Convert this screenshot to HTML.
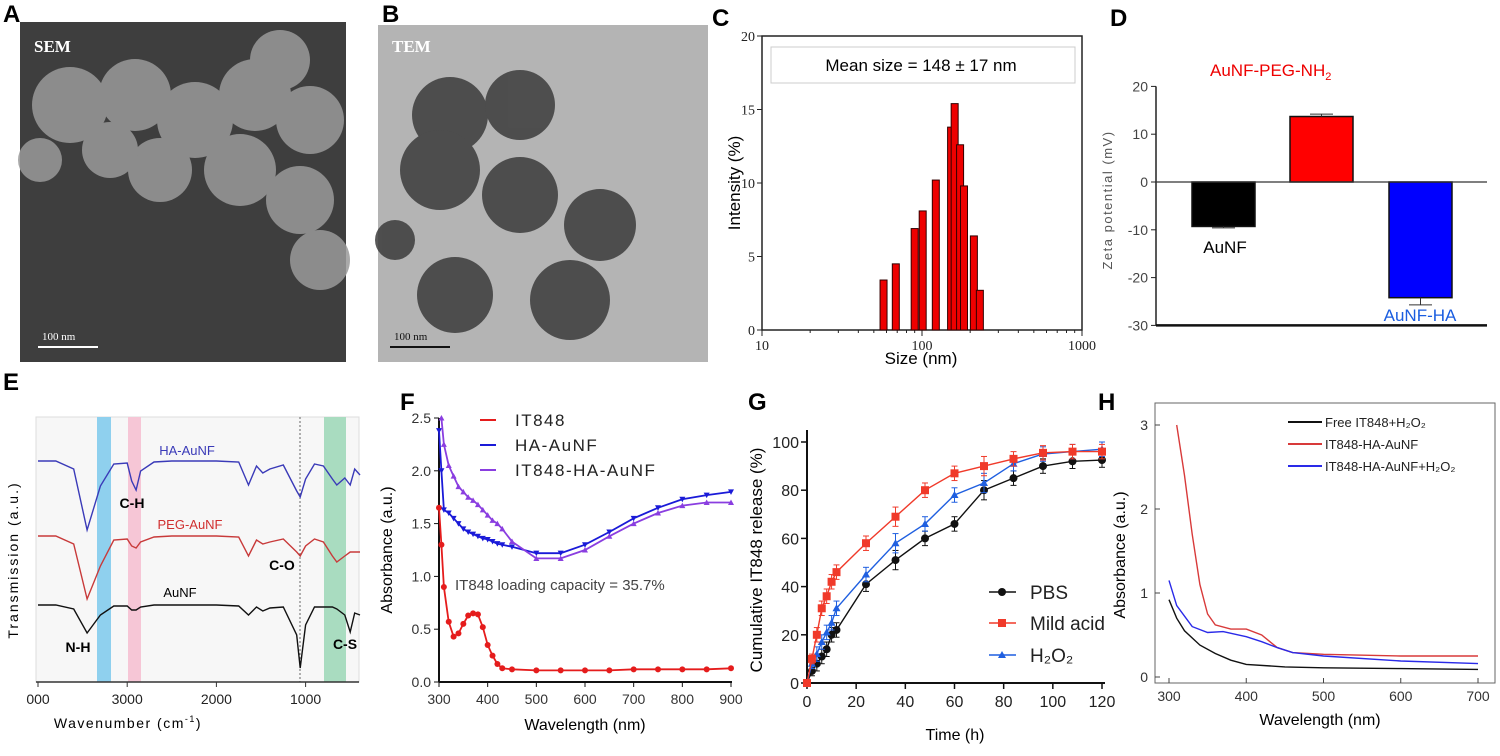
<!DOCTYPE html>
<html><head><meta charset="utf-8"><style>
body{margin:0;background:#fff;}
svg{display:block;font-family:"Liberation Sans",sans-serif;}
.pl{font-weight:bold;font-size:24px;}
</style></head><body>
<svg id="fig" width="1500" height="756" viewBox="0 0 1500 756">
<g>
<rect x="20" y="22" width="326" height="340" fill="#3e3e3e"/>
<g fill="#9a9a9a" opacity="0.85">
<circle cx="70" cy="105" r="38"/><circle cx="135" cy="95" r="36"/><circle cx="195" cy="120" r="38"/>
<circle cx="255" cy="95" r="36"/><circle cx="310" cy="120" r="34"/><circle cx="160" cy="170" r="32"/>
<circle cx="240" cy="170" r="36"/><circle cx="300" cy="200" r="34"/><circle cx="320" cy="260" r="30"/>
<circle cx="110" cy="150" r="28"/><circle cx="40" cy="160" r="22"/><circle cx="280" cy="60" r="30"/>
</g>
<text x="34" y="52" font-family="Liberation Serif" font-weight="bold" font-size="17" fill="#fff">SEM</text>
<line x1="38" y1="347" x2="98" y2="347" stroke="#fff" stroke-width="2"/>
<text x="42" y="340" font-family="Liberation Serif" font-size="11" fill="#fff">100 nm</text>
</g>
<g>
<rect x="378" y="25" width="330" height="337" fill="#b4b4b4"/>
<g fill="#3c3c3c" opacity="0.85">
<circle cx="450" cy="115" r="38"/><circle cx="520" cy="105" r="35"/><circle cx="440" cy="170" r="40"/>
<circle cx="520" cy="195" r="38"/><circle cx="600" cy="225" r="36"/><circle cx="455" cy="295" r="38"/>
<circle cx="570" cy="300" r="40"/><circle cx="395" cy="240" r="20"/>
</g>
<text x="392" y="52" font-family="Liberation Serif" font-weight="bold" font-size="17" fill="#fff">TEM</text>
<line x1="390" y1="347" x2="450" y2="347" stroke="#111" stroke-width="2"/>
<text x="394" y="340" font-family="Liberation Serif" font-size="11" fill="#111">100 nm</text>
</g>
<text class="pl" x="3" y="22">A</text>
<text class="pl" x="382" y="22">B</text>
<text class="pl" x="712" y="26">C</text>
<text class="pl" x="1110" y="26">D</text>
<text class="pl" x="3" y="390">E</text>
<text class="pl" x="400" y="410">F</text>
<text class="pl" x="748" y="410">G</text>
<text class="pl" x="1098" y="410">H</text>

<g>
<rect x="762" y="36" width="320" height="294" fill="none" stroke="#222" stroke-width="1.5"/>
<rect x="771" y="47" width="304" height="36" fill="#fff" stroke="#ccc"/>
<text x="921" y="71" text-anchor="middle" font-size="17">Mean size = 148 ± 17 nm</text>
<text transform="translate(740,183) rotate(-90)" text-anchor="middle" font-size="17">Intensity (%)</text>
<text x="921" y="364" text-anchor="middle" font-size="17">Size (nm)</text>
<g id="cg"></g>
</g>
<g>
<text x="1210" y="76" font-size="17" fill="#e00">AuNF-PEG-NH<tspan font-size="11" dy="4">2</tspan></text>
<text transform="translate(1112,200) rotate(-90)" text-anchor="middle" font-size="13" fill="#555" letter-spacing="1.5">Zeta potential (mV)</text>
<text x="1225" y="253" text-anchor="middle" font-size="17">AuNF</text>
<text x="1420" y="321" text-anchor="middle" font-size="17" fill="#1a5de0">AuNF-HA</text>
<g id="dg"></g>
</g>
<g>
<rect x="36" y="417" width="323" height="265" fill="#f7f7f7" stroke="#ddd"/>
<rect x="97" y="417" width="14" height="265" fill="#8fd0ee"/>
<rect x="128" y="417" width="13" height="265" fill="#f6c6d6"/>
<rect x="324" y="417" width="22" height="265" fill="#a9dcc0"/>
<line x1="300" y1="417" x2="300" y2="682" stroke="#666" stroke-dasharray="2,2"/>
<line x1="36" y1="682" x2="359" y2="682" stroke="#333" stroke-width="1.5"/>
<text x="187" y="455" text-anchor="middle" font-size="13" fill="#3a3ab8">HA-AuNF</text>
<text x="132" y="508" text-anchor="middle" font-size="14" font-weight="bold">C-H</text>
<text x="190" y="529" text-anchor="middle" font-size="13" fill="#d03030">PEG-AuNF</text>
<text x="282" y="570" text-anchor="middle" font-size="14" font-weight="bold">C-O</text>
<text x="180" y="597" text-anchor="middle" font-size="13">AuNF</text>
<text x="78" y="652" text-anchor="middle" font-size="14" font-weight="bold">N-H</text>
<text x="345" y="649" text-anchor="middle" font-size="14" font-weight="bold">C-S</text>
<text transform="translate(18,560) rotate(-90)" text-anchor="middle" font-size="14" letter-spacing="2">Transmission (a.u.)</text>
<text x="128" y="728" text-anchor="middle" font-size="14" letter-spacing="1.5">Wavenumber (cm<tspan font-size="9" dy="-6">-1</tspan><tspan dy="6">)</tspan></text>
<g id="eg"></g>
</g>
<g>
<text transform="translate(392,550) rotate(-90)" text-anchor="middle" font-size="16">Absorbance (a.u.)</text>
<text x="585" y="730" text-anchor="middle" font-size="16">Wavelength (nm)</text>
<text x="455" y="590" font-size="15" fill="#444">IT848 loading capacity = 35.7%</text>
<g id="fg"></g>
</g>
<g>
<text transform="translate(762,560) rotate(-90)" text-anchor="middle" font-size="17">Cumulative IT848 release (%)</text>
<text x="955" y="740" text-anchor="middle" font-size="16">Time (h)</text>
<g id="gg"></g>
</g>
<g>
<rect x="1155" y="403" width="340" height="280" fill="none" stroke="#666"/>
<text transform="translate(1125,555) rotate(-90)" text-anchor="middle" font-size="16">Absorbance (a.u.)</text>
<text x="1320" y="725" text-anchor="middle" font-size="16">Wavelength (nm)</text>
<g id="hg"></g>
</g>
</svg>
<script>
var cSizes=[57.5,68.6,90,101,122,152,160,173,183,211,230];
var cIntensity=[3.4,4.5,6.9,8.1,10.2,13.8,15.4,12.6,9.8,6.4,2.7];
var cYTicks=[0,5,10,15,20];
var cXTicks=[10,100,1000];
var dGroups=["AuNF","AuNF-PEG-NH2","AuNF-HA"];
var dValues=[-9.3,13.7,-24.2];
var dErrors=[0.3,0.5,1.5];
var dTicks=[20,10,0,-10,-20,-30];
var eWn=[4000,3800,3600,3450,3300,3150,3000,2950,2900,2850,2700,2500,2000,1750,1640,1550,1480,1400,1250,1100,1060,1000,900,800,700,650,560,500,450,390];
var eHA=[0,0,8,69,25,3,2,20,29,10,1,0,0,1,24,5,12,8,4,30,36,18,3,5,18,24,17,24,8,14];
var ePEG=[0,0,8,63,30,4,3,10,12,6,1,0,0,1,20,4,8,6,3,16,20,10,3,6,20,26,20,16,16,16];
var eAu=[0,0,4,28,10,1,1,5,5,2,0,0,0,1,10,2,6,3,2,30,63,20,2,2,2,4,10,27,8,10];
var eXTicks=[4000,3000,2000,1000];
var eXTickLabels=["000","3000","2000","1000"];
var fWl=[300,305,310,320,330,340,350,360,370,380,390,400,410,420,430,450,500,550,600,650,700,750,800,850,900];
var fIT848=[1.65,1.3,0.9,0.57,0.43,0.46,0.55,0.63,0.65,0.64,0.52,0.35,0.25,0.17,0.13,0.12,0.11,0.11,0.11,0.11,0.12,0.12,0.12,0.12,0.13];
var fHA=[2.38,2.0,1.63,1.6,1.55,1.5,1.45,1.42,1.4,1.38,1.36,1.35,1.33,1.31,1.3,1.28,1.22,1.22,1.3,1.42,1.55,1.65,1.73,1.77,1.8];
var fIT848HA=[null,2.5,2.25,2.05,1.95,1.85,1.8,1.75,1.72,1.68,1.63,1.58,1.53,1.5,1.45,1.33,1.17,1.17,1.25,1.38,1.5,1.6,1.67,1.7,1.7];
var fYTicks=[0,0.5,1,1.5,2,2.5];
var fYTickLabels=["0.0","0.5","1.0","1.5","2.0","2.5"];
var fXTicks=[300,400,500,600,700,800,900];
var gTime=[0,2,4,6,8,10,12,24,36,48,60,72,84,96,108,120];
var gPBS=[0,5,8,11,14,20,22,41,51,60,66,80,85,90,92,92.5];
var gAcid=[0,10,20,31,36,42,46,58,69,80,87,90,93,95.5,96,96];
var gH2O2=[0,8,12,17,21,25,31,45,58,66,78,83,91,95,96,97];
var gErr=[1,2,3,3,3,3,3,3,4,3,3,4,3,3,3,3];
var gYTicks=[0,20,40,60,80,100];
var gXTicks=[0,20,40,60,80,100,120];
var hWlFree=[300,310,320,340,360,380,400,450,500,600,700];
var hFree=[0.92,0.7,0.55,0.38,0.28,0.2,0.15,0.12,0.11,0.1,0.09];
var hWlRed=[310,320,330,340,350,360,380,400,420,440,460,500,600,700];
var hRed=[3.0,2.4,1.7,1.1,0.75,0.62,0.57,0.57,0.5,0.35,0.29,0.27,0.25,0.25];
var hWlBlue=[300,310,330,350,370,400,420,440,460,500,600,700];
var hBlue=[1.15,0.85,0.6,0.53,0.54,0.48,0.42,0.35,0.29,0.25,0.19,0.16];
var hYTicks=[0,1,2,3];
var hXTicks=[300,400,500,600,700];

var NS="http://www.w3.org/2000/svg";
function mk(parent,tag,attrs){var e=document.createElementNS(NS,tag);for(var k in attrs)e.setAttribute(k,attrs[k]);parent.appendChild(e);return e;}
function txt(parent,x,y,s,anchor,size,fill){var t=mk(parent,'text',{x:x,y:y,'text-anchor':anchor||'middle','font-size':size||14,fill:fill||'#222'});t.textContent=s;return t;}
function pathD(xs,ys,fx,fy){var d='';for(var i=0;i<xs.length;i++){if(ys[i]==null)continue;d+=(d?'L':'M')+fx(xs[i]).toFixed(1)+','+fy(ys[i]).toFixed(1);}return d;}

(function(){
var g=document.getElementById('cg');
var cx=function(v){return 762+160*(Math.log10(v)-1);};
var cy=function(v){return 330-294*v/20;};
cYTicks.forEach(function(v){mk(g,'line',{x1:757,x2:762,y1:cy(v),y2:cy(v),stroke:'#222'});
var t=txt(g,755,cy(v)+5,String(v),'end',14);t.setAttribute('font-family','Liberation Serif');

});
cXTicks.forEach(function(v){mk(g,'line',{x1:cx(v),x2:cx(v),y1:330,y2:336,stroke:'#222'});
var t=txt(g,cx(v),350,String(v),'middle',14);t.setAttribute('font-family','Liberation Serif');

});
for(var d=10;d<1000;d*=10)for(var m=2;m<10;m++){var xx=cx(d*m);mk(g,'line',{x1:xx,x2:xx,y1:330,y2:333,stroke:'#222'});}
cSizes.forEach(function(s,i){var r=mk(g,'rect',{x:cx(s)-3.5,y:cy(cIntensity[i]),width:7,height:330-cy(cIntensity[i]),fill:'#e00',stroke:'#300','stroke-width':1});

});
})();

(function(){
var g=document.getElementById('dg');
var dy=function(v){return 182-v*4.78;};
var xs=[1192,1290,1389];var cols=['#000','#f00','#00f'];
mk(g,'line',{x1:1156,x2:1156,y1:dy(20),y2:dy(-30),stroke:'#222','stroke-width':1.5});
dTicks.forEach(function(v){mk(g,'line',{x1:1151,x2:1156,y1:dy(v),y2:dy(v),stroke:'#222'});
var t=txt(g,1148,dy(v)+5,String(v),'end',14,'#444');

});
dValues.forEach(function(v,i){var y0=dy(0),y1=dy(v);
var r=mk(g,'rect',{x:xs[i],y:Math.min(y0,y1),width:63,height:Math.abs(y1-y0),fill:cols[i],stroke:'#111','stroke-width':1.5});


var ye=dy(v+(v<0?-dErrors[i]:dErrors[i]));
mk(g,'line',{x1:xs[i]+31.5,x2:xs[i]+31.5,y1:y1,y2:ye,stroke:'#333'});
mk(g,'line',{x1:xs[i]+20,x2:xs[i]+43,y1:ye,y2:ye,stroke:'#333'});});
mk(g,'line',{x1:1156,x2:1487,y1:dy(0),y2:dy(0),stroke:'#333','stroke-width':1.2});
mk(g,'line',{x1:1156,x2:1487,y1:dy(-30),y2:dy(-30),stroke:'#111','stroke-width':2.5});
})();

(function(){
var g=document.getElementById('eg');
var ex=function(v){return 38+(4000-v)*0.0892;};
var series=[[eHA,461,'#3a3ab8','e-spectrum-ha-aunf'],[ePEG,536,'#c83a3a','e-spectrum-peg-aunf'],[eAu,605,'#111','e-spectrum-aunf']];
series.forEach(function(s){var base=s[1];
var p=mk(g,'path',{d:pathD(eWn,s[0],ex,function(v){return base+v;}),fill:'none',stroke:s[2],'stroke-width':1.4});

});
eXTicks.forEach(function(v,i){mk(g,'line',{x1:ex(v),x2:ex(v),y1:682,y2:687,stroke:'#333'});
var t=txt(g,ex(v),704,eXTickLabels[i],'middle',14);

});
})();

(function(){
var g=document.getElementById('fg');
var fx=function(v){return 439+(v-300)*292/600;};
var fy=function(v){return 682-v*105.6;};
mk(g,'line',{x1:439,x2:439,y1:fy(2.5),y2:682,stroke:'#111','stroke-width':2});
mk(g,'line',{x1:439,x2:732,y1:682,y2:682,stroke:'#111','stroke-width':2});
fYTicks.forEach(function(v,i){mk(g,'line',{x1:434,x2:439,y1:fy(v),y2:fy(v),stroke:'#111'});
var t=txt(g,431,fy(v)+5,fYTickLabels[i],'end',14,'#333');

});
fXTicks.forEach(function(v){mk(g,'line',{x1:fx(v),x2:fx(v),y1:682,y2:687,stroke:'#111'});
var t=txt(g,fx(v),704,String(v),'middle',14,'#333');

});
var ser=[[fIT848,'#e51c1c','circle','f-series-it848'],[fHA,'#1a1ad8','tri-down','f-series-ha-aunf'],[fIT848HA,'#8a3ee0','tri-up','f-series-it848-ha-aunf']];
ser.forEach(function(s){var p=mk(g,'path',{d:pathD(fWl,s[0],fx,fy),fill:'none',stroke:s[1],'stroke-width':1.8});


fWl.forEach(function(w,i){if(s[0][i]==null)return;var X=fx(w),Y=fy(s[0][i]);
if(s[2]=='circle')mk(g,'circle',{cx:X,cy:Y,r:3,fill:s[1]});
else if(s[2]=='tri-down')mk(g,'path',{d:'M'+(X-3)+','+(Y-2.5)+'L'+(X+3)+','+(Y-2.5)+'L'+X+','+(Y+3)+'Z',fill:s[1]});
else mk(g,'path',{d:'M'+(X-3)+','+(Y+2.5)+'L'+(X+3)+','+(Y+2.5)+'L'+X+','+(Y-3)+'Z',fill:s[1]});});});
var leg=[['IT848','#e51c1c',420],['HA-AuNF','#1a1ad8',445],['IT848-HA-AuNF','#8a3ee0',470]];
leg.forEach(function(l){mk(g,'line',{x1:480,x2:496,y1:l[2],y2:l[2],stroke:l[1],'stroke-width':2});
var t=txt(g,515,l[2]+6,l[0],'start',17,'#222');t.setAttribute('letter-spacing','1.5');

});
})();

(function(){
var g=document.getElementById('gg');
var gx=function(v){return 807+v*295/120;};
var gy=function(v){return 683-v*2.41;};
mk(g,'line',{x1:807,x2:807,y1:gy(105),y2:683,stroke:'#111','stroke-width':2});
mk(g,'line',{x1:807,x2:1105,y1:683,y2:683,stroke:'#111','stroke-width':2});
gYTicks.forEach(function(v){mk(g,'line',{x1:801,x2:807,y1:gy(v),y2:gy(v),stroke:'#111','stroke-width':1.5});
var t=txt(g,799,gy(v)+6,String(v),'end',16);

});
gXTicks.forEach(function(v){mk(g,'line',{x1:gx(v),x2:gx(v),y1:683,y2:689,stroke:'#111','stroke-width':1.5});
var t=txt(g,gx(v),707,String(v),'middle',16);

});
var ser=[[gPBS,'#111','c','g-series-pbs'],[gH2O2,'#1f5fe0','t','g-series-h2o2'],[gAcid,'#f03a2a','s','g-series-mild-acid']];
ser.forEach(function(s){var p=mk(g,'path',{d:pathD(gTime,s[0],gx,gy),fill:'none',stroke:s[1],'stroke-width':1.4});


gTime.forEach(function(t,i){var X=gx(t),Y=gy(s[0][i]),e=gErr[i]*2.41;
mk(g,'line',{x1:X,x2:X,y1:Y-e,y2:Y+e,stroke:s[1]});mk(g,'line',{x1:X-3,x2:X+3,y1:Y-e,y2:Y-e,stroke:s[1]});mk(g,'line',{x1:X-3,x2:X+3,y1:Y+e,y2:Y+e,stroke:s[1]});
if(s[2]=='c')mk(g,'circle',{cx:X,cy:Y,r:4,fill:s[1]});
else if(s[2]=='s')mk(g,'rect',{x:X-4,y:Y-4,width:8,height:8,fill:s[1]});
else mk(g,'path',{d:'M'+(X-4)+','+(Y+3)+'L'+(X+4)+','+(Y+3)+'L'+X+','+(Y-4)+'Z',fill:s[1]});});});
var leg=[['PBS','#111',592,'c'],['Mild acid','#f03a2a',623,'s'],['H\u2082O\u2082','#1f5fe0',655,'t']];
leg.forEach(function(l){mk(g,'line',{x1:989,x2:1016,y1:l[2],y2:l[2],stroke:l[1],'stroke-width':1.5});
if(l[3]=='c')mk(g,'circle',{cx:1002,cy:l[2],r:4,fill:l[1]});else if(l[3]=='s')mk(g,'rect',{x:998,y:l[2]-4,width:8,height:8,fill:l[1]});else mk(g,'path',{d:'M998,'+(l[2]+3)+'L1006,'+(l[2]+3)+'L1002,'+(l[2]-4)+'Z',fill:l[1]});
var t=txt(g,1030,l[2]+7,l[0],'start',19);

});
})();

(function(){
var g=document.getElementById('hg');
var hx=function(v){return 1169+(v-300)*309/400;};
var hy=function(v){return 677-v*84;};
hYTicks.forEach(function(v){mk(g,'line',{x1:1155,x2:1160,y1:hy(v),y2:hy(v),stroke:'#444'});
var t=txt(g,1148,hy(v)+5,String(v),'end',14,'#333');

});
hXTicks.forEach(function(v){mk(g,'line',{x1:hx(v),x2:hx(v),y1:678,y2:683,stroke:'#444'});
var t=txt(g,hx(v),701,String(v),'middle',14,'#333');

});
var ser=[[hWlFree,hFree,'#111','h-series-free-it848-h2o2'],[hWlRed,hRed,'#d83a3a','h-series-it848-ha-aunf'],[hWlBlue,hBlue,'#2a2ae8','h-series-it848-ha-aunf-h2o2']];
ser.forEach(function(s){var p=mk(g,'path',{d:pathD(s[0],s[1],hx,hy),fill:'none',stroke:s[2],'stroke-width':1.4});

});
var leg=[['Free IT848+H\u2082O\u2082','#111',422],['IT848-HA-AuNF','#d83a3a',444],['IT848-HA-AuNF+H\u2082O\u2082','#2a2ae8',466]];
leg.forEach(function(l){mk(g,'line',{x1:1288,x2:1322,y1:l[2],y2:l[2],stroke:l[1],'stroke-width':2});
var t=txt(g,1325,l[2]+5,l[0],'start',13);

});
})();
</script>
</body></html>
